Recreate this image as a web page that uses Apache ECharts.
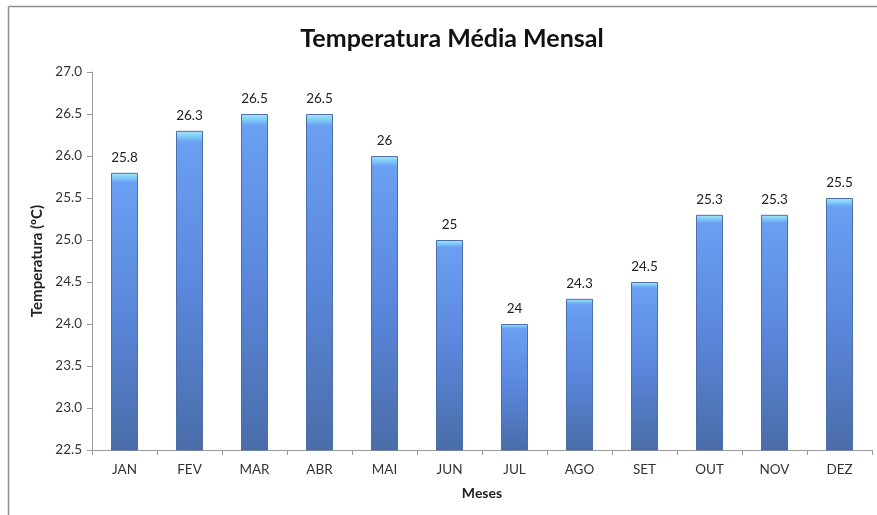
<!DOCTYPE html>
<html>
<head>
<meta charset="utf-8">
<script src="https://cdn.jsdelivr.net/npm/echarts@6/dist/echarts.min.js"></script>
<style>html,body{margin:0;padding:0;background:#fff;overflow:hidden}#c{width:877px;height:515px}</style>
</head>
<body>
<div id="c"></div>
<script>
const months = ['JAN','FEV','MAR','ABR','MAI','JUN','JUL','AGO','SET','OUT','NOV','DEZ'];
const temps = [25.8, 26.3, 26.5, 26.5, 26, 25, 24, 24.3, 24.5, 25.3, 25.3, 25.5];
const yMin = 22.5, yMax = 27.0, yStep = 0.5;

const chart = echarts.init(document.getElementById('c'), null, {renderer: 'canvas'});
const font = 'Lato, "Open Sans", "Liberation Sans", sans-serif';
chart.setOption({
  backgroundColor: '#fff',
  animation: false,
  title: {
    text: 'Temperatura Média Mensal',
    left: 447, top: 21, textAlign: 'center',
    textStyle: {fontFamily: font, fontSize: 25, fontWeight: 'bold', color: '#111'}
  },
  graphic: [
    {type: 'line', shape: {x1: 8.5, y1: 6.5, x2: 877, y2: 6.5},
     style: {stroke: '#8f8f8f', lineWidth: 1.5}, silent: true},
    {type: 'line', shape: {x1: 8.5, y1: 6.5, x2: 8.5, y2: 515},
     style: {stroke: '#8f8f8f', lineWidth: 1.5}, silent: true}
  ],
  grid: {left: 92, right: 5, top: 72, bottom: 65},
  xAxis: {
    type: 'category', data: months,
    name: 'Meses', nameLocation: 'middle', nameGap: 36,
    nameTextStyle: {fontFamily: font, fontSize: 14, fontWeight: 'bold', color: '#222'},
    axisLine: {lineStyle: {color: '#9a9a9a'}},
    axisTick: {show: true, alignWithLabel: false, length: 5, lineStyle: {color: '#9a9a9a'}},
    axisLabel: {fontFamily: font, fontSize: 13.5, color: '#333', margin: 13}
  },
  yAxis: {
    type: 'value', min: yMin, max: yMax, interval: yStep,
    name: 'Temperatura (ºC)', nameLocation: 'middle', nameGap: 47, nameRotate: 90,
    nameTextStyle: {fontFamily: font, fontSize: 15, fontWeight: 'bold', color: '#222'},
    axisLine: {show: true, lineStyle: {color: '#9a9a9a'}},
    axisTick: {show: true, length: 5, lineStyle: {color: '#9a9a9a'}},
    splitLine: {show: false},
    axisLabel: {fontFamily: font, fontSize: 13.5, color: '#333', margin: 10,
      formatter: v => v.toFixed(1)}
  },
  series: [{
    type: 'bar', data: temps, barWidth: 27,
    itemStyle: {
      borderColor: '#4b6fa6', borderWidth: 1,
      color: {
        type: 'linear', x: 0, y: 0, x2: 0, y2: 1,
        colorStops: [
          {offset: 0, color: '#aee6fb'},
          {offset: 0.018, color: '#7ccaf6'},
          {offset: 0.035, color: '#6a9ff2'},
          {offset: 0.5, color: '#5a87dc'},
          {offset: 1, color: '#4a6da8'}
        ]
      }
    },
    label: {show: true, position: 'top', distance: 8,
      fontFamily: font, fontSize: 13.5, color: '#222'}
  }]
});
</script>
</body>
</html>
